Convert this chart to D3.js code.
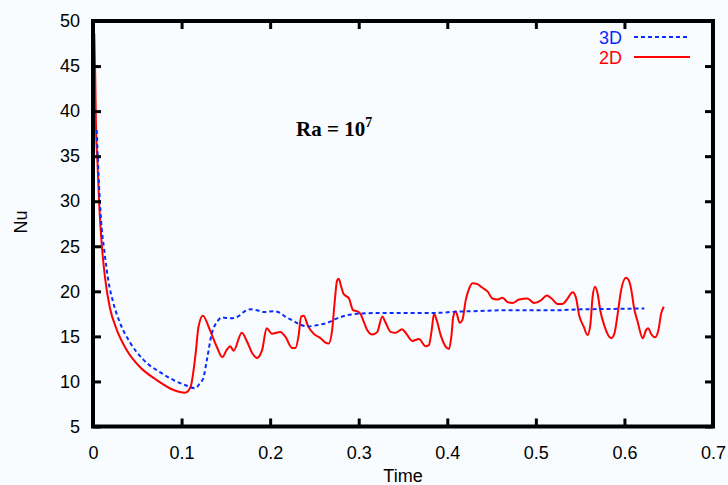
<!DOCTYPE html>
<html>
<head>
<meta charset="utf-8">
<script src="https://cdn.jsdelivr.net/npm/d3@7"></script>
<style>
  html, body { margin: 0; padding: 0; background: #f8fcfe; }
  svg { display: block; }
</style>
</head>
<body>
<script>
// ---- data ----
const xTicks = [0, 0.1, 0.2, 0.3, 0.4, 0.5, 0.6, 0.7];
const yTicks = [5, 10, 15, 20, 25, 30, 35, 40, 45, 50];
const seriesNames = ["3D", "2D"];
const seriesColors = ["#0a2bff", "#ff0000"];

const t2D = [0.0015, 0.0025, 0.0034, 0.005, 0.007, 0.0098, 0.0136, 0.019, 0.027, 0.038, 0.053, 0.072, 0.091, 0.104, 0.110, 0.116, 0.119, 0.124, 0.132, 0.140, 0.146, 0.151, 0.155, 0.1587, 0.168, 0.174, 0.180, 0.185, 0.191, 0.196, 0.202, 0.2115, 0.217, 0.225, 0.2285, 0.232, 0.235, 0.238, 0.2425, 0.249, 0.257, 0.2624, 0.266, 0.270, 0.273, 0.2756, 0.2775, 0.280, 0.283, 0.289, 0.2937, 0.298, 0.302, 0.3058, 0.3096, 0.3153, 0.321, 0.3266, 0.330, 0.336, 0.3416, 0.349, 0.353, 0.3605, 0.368, 0.3756, 0.3793, 0.3824, 0.385, 0.388, 0.393, 0.398, 0.402, 0.4046, 0.4068, 0.4095, 0.414, 0.417, 0.4208, 0.4246, 0.4284, 0.434, 0.4397, 0.4454, 0.451, 0.4567, 0.4624, 0.468, 0.4737, 0.4811, 0.4906, 0.498, 0.5057, 0.5124, 0.5178, 0.5245, 0.530, 0.5358, 0.5415, 0.545, 0.549, 0.5539, 0.5584, 0.5614, 0.5641, 0.5667, 0.5698, 0.5727, 0.5773, 0.585, 0.5886, 0.5924, 0.5962, 0.6018, 0.605, 0.6075, 0.611, 0.615, 0.6207, 0.6244, 0.627, 0.630, 0.6346, 0.6384, 0.6414, 0.6444];
const nu2D = [48.6, 44.0, 38.1, 34.4, 29.7, 25.3, 21.5, 18.2, 15.7, 13.5, 11.6, 10.15, 9.05, 8.75, 9.35, 13.2, 16.0, 17.3, 15.7, 13.8, 12.7, 13.5, 13.9, 13.4, 15.4, 14.4, 13.1, 12.6, 13.5, 15.9, 15.3, 15.5, 15.0, 13.7, 13.7, 15.0, 17.2, 17.3, 16.2, 15.3, 14.8, 14.3, 14.2, 15.7, 19.0, 21.2, 21.4, 20.6, 19.7, 19.2, 17.9, 17.8, 17.5, 16.6, 15.7, 15.2, 15.5, 17.2, 16.6, 15.5, 15.4, 15.8, 15.4, 14.5, 14.7, 13.9, 14.05, 15.7, 17.5, 16.8, 15.0, 13.9, 13.6, 15.0, 17.2, 17.8, 16.5, 16.8, 19.0, 20.3, 20.9, 20.8, 20.4, 20.0, 19.2, 19.1, 19.3, 18.8, 18.7, 19.1, 19.2, 18.7, 19.0, 19.55, 19.2, 18.6, 18.6, 19.2, 19.9, 19.4, 17.3, 16.1, 15.15, 16.2, 19.4, 20.5, 19.7, 17.9, 16.2, 14.8, 15.3, 17.5, 20.1, 21.5, 21.2, 20.3, 18.1, 16.6, 14.8, 15.7, 15.9, 15.3, 14.9, 15.7, 17.5, 18.3];

const t3D = [0.0042, 0.007, 0.0098, 0.0124, 0.0173, 0.023, 0.0305, 0.042, 0.057, 0.076, 0.091, 0.104, 0.1154, 0.121, 0.1245, 0.1286, 0.1343, 0.140, 0.1456, 0.155, 0.1643, 0.17, 0.1776, 0.185, 0.1926, 0.204, 0.2115, 0.217, 0.2248, 0.2322, 0.2417, 0.253, 0.2643, 0.2756, 0.287, 0.298, 0.3247, 0.3623, 0.385, 0.4114, 0.43, 0.468, 0.5207, 0.551, 0.5886, 0.6225];
const nu3D = [37.9, 31.4, 27.0, 24.8, 21.2, 18.7, 16.5, 14.3, 12.4, 11.0, 10.15, 9.6, 9.25, 9.85, 10.35, 12.4, 15.4, 16.6, 17.1, 17.0, 17.25, 17.7, 18.0, 17.9, 17.7, 17.8, 17.6, 17.2, 16.8, 16.4, 16.1, 16.25, 16.5, 17.0, 17.35, 17.5, 17.6, 17.6, 17.6, 17.75, 17.8, 17.9, 17.9, 18.0, 18.05, 18.1];

// ---- layout ----
const W = 728, H = 485;
const L = 93, R = 713, T = 21, B = 426.5;

const svg = d3.select("body").append("svg")
  .attr("width", W).attr("height", H)
  .style("background", "#f8fcfe");

const x = d3.scaleLinear().domain([0, 0.7]).range([L, R]);
const y = d3.scaleLinear().domain([5, 50]).range([B, T]);

const font = "'Liberation Sans', Arial, Helvetica, sans-serif";

// clip
svg.append("clipPath").attr("id", "clip")
  .append("rect").attr("x", L).attr("y", T).attr("width", R - L).attr("height", B - T);

// lines
const line = d3.line().x(d => x(d[0])).y(d => y(d[1])).curve(d3.curveMonotoneX);
const d3D = t3D.map((t, i) => [t, nu3D[i]]);
const d2D = t2D.map((t, i) => [t, nu2D[i]]);

const g = svg.append("g").attr("clip-path", "url(#clip)");
g.append("path").datum(d2D).attr("d", line)
  .attr("fill", "none").attr("stroke", seriesColors[1]).attr("stroke-width", 2);
g.append("path").datum(d3D).attr("d", line)
  .attr("fill", "none").attr("stroke", seriesColors[0]).attr("stroke-width", 2)
  .attr("stroke-dasharray", "4,3");

// axes (inward ticks on all four sides)
const tickLen = 8;
const axB = d3.axisBottom(x).tickValues(xTicks).tickSize(-tickLen).tickFormat(d3.format("")).tickPadding(tickLen + 12);
const axT = d3.axisTop(x).tickValues(xTicks).tickSize(-tickLen).tickFormat("");
const axL = d3.axisLeft(y).tickValues(yTicks).tickSize(-tickLen).tickFormat(d3.format("")).tickPadding(tickLen + 5);
const axR = d3.axisRight(y).tickValues(yTicks).tickSize(-tickLen).tickFormat("");

function style(sel) {
  sel.select(".domain").remove();
  sel.selectAll(".tick line").attr("stroke", "#000").attr("stroke-width", 3);
  sel.selectAll(".tick text").attr("fill", "#000").style("font-family", font).style("font-size", "18px");
}
svg.append("g").attr("transform", `translate(0,${B})`).call(axB).call(style);
svg.append("g").attr("transform", `translate(0,${T})`).call(axT).call(style);
svg.append("g").attr("transform", `translate(${L},0)`).call(axL).call(style);
svg.append("g").attr("transform", `translate(${R},0)`).call(axR).call(style);

// frame
svg.append("rect").attr("x", L).attr("y", T).attr("width", R - L).attr("height", B - T)
  .attr("fill", "none").attr("stroke", "#000").attr("stroke-width", 4);

// axis titles
svg.append("text").attr("x", (L + R) / 2 + 0).attr("y", 482)
  .attr("text-anchor", "middle").style("font-family", font).style("font-size", "18px").text("Time");
svg.append("text").attr("transform", "translate(27,222) rotate(-90)")
  .attr("text-anchor", "middle").style("font-family", font).style("font-size", "18px").text("Nu");

// legend
const legY = [37, 57];
seriesNames.forEach((name, i) => {
  svg.append("text").attr("x", 622).attr("y", legY[i] + 6.5).attr("text-anchor", "end")
    .attr("fill", seriesColors[i]).style("font-family", font).style("font-size", "18px").text(name);
  svg.append("line").attr("x1", 634).attr("x2", 690).attr("y1", legY[i]).attr("y2", legY[i])
    .attr("stroke", seriesColors[i]).attr("stroke-width", 2)
    .attr("stroke-dasharray", i === 0 ? "4,3" : null);
});

// annotation
const ann = svg.append("text").attr("x", 296).attr("y", 136)
  .style("font-family", "'Liberation Serif', 'Times New Roman', serif")
  .style("font-weight", "bold").style("font-size", "21px");
ann.append("tspan").text("Ra = 10");
ann.append("tspan").attr("dy", -9).style("font-size", "14px").text("7");
</script>
</body>
</html>
